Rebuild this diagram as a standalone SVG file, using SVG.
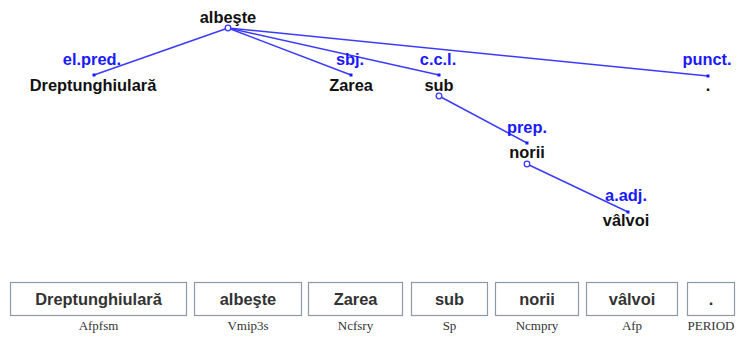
<svg xmlns="http://www.w3.org/2000/svg" width="738" height="337" viewBox="0 0 738 337">
<style>
.w{font-family:"Liberation Sans",Arial,sans-serif;font-weight:bold;font-size:16.4px;fill:#111;text-anchor:middle}
.l{font-family:"Liberation Sans",Arial,sans-serif;font-weight:bold;font-size:16.4px;fill:#1a1aff;text-anchor:middle}
.e{stroke:#3b3bff;stroke-width:1.5;fill:none}
.c{stroke:#3b3bff;stroke-width:1.3;fill:#fff}
.d{fill:#1a1aff}
.b{fill:#fff;stroke:#8c99a6;stroke-width:1.2}
.bt{font-family:"Liberation Sans",Arial,sans-serif;font-weight:bold;font-size:16.4px;fill:#333;text-anchor:middle}
.p{font-family:"Liberation Serif","Times New Roman",serif;font-size:13px;fill:#333;text-anchor:middle}
</style>
<g id="connectors">
<line class="e" x1="228" y1="28" x2="94" y2="75"/>
<line class="e" x1="228" y1="28" x2="351" y2="75"/>
<line class="e" x1="228" y1="28" x2="439" y2="75"/>
<line class="e" x1="228" y1="28" x2="708" y2="76"/>
<line class="e" x1="439" y1="96" x2="527" y2="143"/>
<line class="e" x1="527" y1="164" x2="628" y2="212"/>
<rect class="d" x="92.5" y="73.5" width="3" height="3"/>
<rect class="d" x="349.5" y="73.5" width="3" height="3"/>
<rect class="d" x="437.5" y="73.5" width="3" height="3"/>
<rect class="d" x="706.5" y="74.5" width="3" height="3"/>
<rect class="d" x="525.5" y="141.5" width="3" height="3"/>
<rect class="d" x="626.5" y="210.5" width="3" height="3"/>
<text class="l" x="92" y="65">el.pred.</text>
<text class="l" x="350" y="65">sbj.</text>
<text class="l" x="438" y="65">c.c.l.</text>
<text class="l" x="707" y="65">punct.</text>
<text class="l" x="527" y="133">prep.</text>
<text class="l" x="626" y="201">a.adj.</text>
</g>
<g id="n-albeste"><text class="w" x="228" y="23">albeşte</text><circle class="c" cx="228" cy="28" r="2.8"/></g>
<g id="n-dreptunghiulara"><text class="w" x="93" y="91">Dreptunghiulară</text></g>
<g id="n-zarea"><text class="w" x="351" y="91">Zarea</text></g>
<g id="n-sub"><text class="w" x="439" y="91">sub</text><circle class="c" cx="439" cy="96" r="2.8"/></g>
<g id="n-period"><text class="w" x="708" y="91">.</text></g>
<g id="n-norii"><text class="w" x="527" y="158">norii</text><circle class="c" cx="527" cy="164" r="2.8"/></g>
<g id="n-valvoi"><text class="w" x="626" y="226">vâlvoi</text></g>
<g id="tokens">
<rect class="b" x="10.5" y="282.5" width="176" height="33"/>
<text class="bt" x="98.5" y="305">Dreptunghiulară</text>
<text class="p" x="98.5" y="330">Afpfsm</text>
<rect class="b" x="194.5" y="282.5" width="107" height="33"/>
<text class="bt" x="248" y="305">albeşte</text>
<text class="p" x="248" y="330">Vmip3s</text>
<rect class="b" x="308.5" y="282.5" width="94" height="33"/>
<text class="bt" x="355.5" y="305">Zarea</text>
<text class="p" x="355.5" y="330">Ncfsry</text>
<rect class="b" x="411.5" y="282.5" width="76" height="33"/>
<text class="bt" x="449.5" y="305">sub</text>
<text class="p" x="449.5" y="330">Sp</text>
<rect class="b" x="495.5" y="282.5" width="83" height="33"/>
<text class="bt" x="537" y="305">norii</text>
<text class="p" x="537" y="330">Ncmpry</text>
<rect class="b" x="586.5" y="282.5" width="91" height="33"/>
<text class="bt" x="632" y="305">vâlvoi</text>
<text class="p" x="632" y="330">Afp</text>
<rect class="b" x="687.5" y="282.5" width="47" height="33"/>
<text class="bt" x="711" y="305">.</text>
<text class="p" x="711" y="330">PERIOD</text>
</g>
</svg>
